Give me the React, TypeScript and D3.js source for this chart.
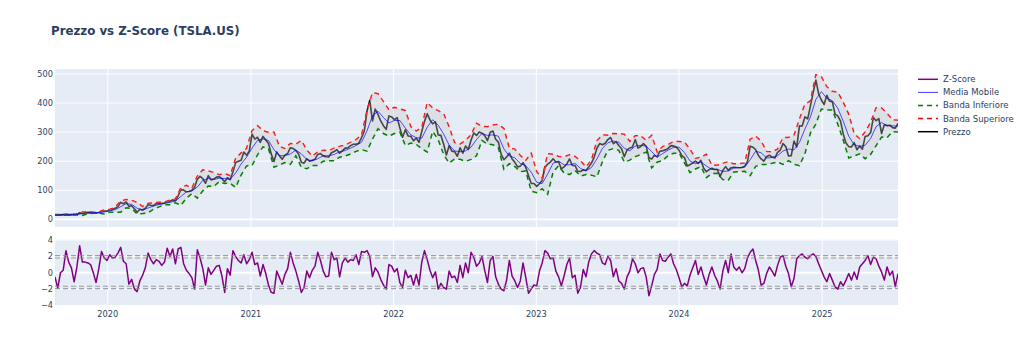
import React, { useEffect, useRef } from 'react';
import * as d3 from 'd3';

// weekly closes from 2019-08-19, bands / moving average every two weeks
const startDate = new Date(Date.UTC(2019, 7, 19));

const prezzo = [
  15.0, 15.1, 15.3, 16.5, 16.0, 15.3, 16.2, 16.5, 17.3, 21.9, 21.0, 22.5, 23.0, 23.7, 22.0, 22.2, 23.6, 27.1, 28.7, 28.7,
  32.0, 34.5, 37.7, 43.4, 58.0, 53.6, 60.0, 44.5, 46.9, 36.4, 24.1, 34.3, 32.0, 38.2, 50.3, 48.3, 46.8, 54.7, 53.3, 54.6,
  55.7, 59.9, 62.4, 66.7, 63.8, 80.9, 102.0, 100.6, 94.5, 95.4, 99.6, 109.8, 138.3, 147.6, 139.8, 124.1, 150.0, 135.5, 138.4, 145.0,
  146.6, 140.0, 129.3, 143.0, 136.2, 163.0, 195.0, 199.7, 203.3, 231.2, 220.6, 235.2,
  293.3, 276.0, 282.2, 264.5, 285.0, 272.8, 260.8, 225.0, 199.0, 231.7, 218.3, 206.2, 220.6, 226.3, 246.3, 243.7, 236.5, 224.4,
  196.6, 193.2, 208.4, 199.7, 203.4, 206.8, 223.1, 226.1, 218.2, 215.3, 214.4, 229.1, 233.3, 239.4, 227.3, 235.3, 244.7, 245.4,
  253.3, 258.2, 258.4, 261.8, 281.0, 303.6, 371.3, 409.0, 338.3, 379.0, 360.6, 338.3, 322.1, 309.3, 355.7, 352.3,
  342.3, 349.9, 314.6, 282.1, 307.8, 286.7, 285.7, 270.0, 279.4, 265.1, 301.8, 336.9, 362.7, 341.8, 328.3, 335.0, 290.3, 288.6,
  257.9, 221.3, 253.2, 234.4, 232.6, 216.8, 245.7, 227.3, 251.9, 240.1, 272.2, 297.1, 288.2, 300.0, 296.1, 288.1, 270.2, 299.7,
  303.4, 275.3, 265.3, 223.1, 205.0, 214.4, 227.5, 207.5, 196.0, 180.2, 182.9, 194.9, 179.1, 150.2, 123.2, 123.2,
  113.1, 122.4, 133.4, 177.9, 190.0, 196.9, 208.3, 196.9, 197.8, 173.4, 180.1, 190.4, 207.5, 185.0, 185.0, 165.1, 164.3, 170.1,
  168.0, 180.1, 193.2, 214.0, 244.4, 260.5, 256.6, 261.8, 274.4, 281.4, 260.0, 266.4, 253.9, 242.7, 215.5, 238.6, 245.0, 248.5,
  274.4, 244.9, 250.2, 260.5, 251.1, 212.0, 207.3, 220.0, 214.7, 234.3, 235.5, 238.8, 243.8, 253.5, 252.5, 248.5,
  237.5, 218.9, 212.2, 183.3, 187.9, 193.6, 200.0, 192.0, 202.6, 175.3, 163.6, 170.8, 175.8, 171.1, 171.1, 147.1, 168.3, 181.2,
  168.5, 177.5, 179.2, 178.1, 177.5, 178.0, 183.0, 197.9, 251.5, 248.2, 239.2, 219.8, 207.7, 200.0, 216.1, 220.3, 214.1, 210.7,
  230.3, 238.3, 260.5, 250.1, 217.8, 218.9, 269.2, 249.0, 321.2, 320.7, 352.6, 345.2, 389.2, 436.2, 479.0, 431.7, 410.4,
  394.7, 426.5, 406.6, 404.6, 361.6, 355.8, 337.8, 293.0, 262.7, 250.0, 248.7, 263.6, 239.4, 252.3, 241.4, 285.0, 287.2, 298.3,
  350.0, 339.3, 346.5, 295.1, 325.3, 322.2, 323.6, 315.4, 313.5, 329.7
];

const mediaMobile = [
  15.0, 15.1, 15.7, 16.0, 16.3, 19.2, 22.1, 22.8, 22.9, 25.4,
  29.1, 33.2, 43.4, 53.8, 51.3, 38.0, 31.7, 38.7, 45.9, 50.8,
  54.6, 58.2, 63.2, 78.4, 94.5, 97.5, 110.8, 133.9, 140.4, 137.0,
  141.4, 140.2, 137.1, 159.3, 190.3, 213.7, 245.1, 271.7, 276.9, 270.8,
  239.4, 218.5, 219.2, 224.9, 238.2, 225.3, 205.7, 201.2, 208.3, 218.6,
  218.5, 223.0, 232.3, 236.7, 244.7, 253.8, 264.9, 304.4, 355.6, 371.7,
  350.0, 331.4, 339.9, 339.8, 313.6, 290.6, 280.5, 279.1, 316.6, 342.4,
  323.9, 293.0, 255.3, 235.4, 232.4, 235.4, 247.9, 274.4, 295.4, 288.6,
  290.4, 285.9, 242.2, 217.5, 211.4, 191.7, 184.3, 161.9, 127.4, 123.0,
  155.9, 193.3, 200.0, 187.1, 187.9, 192.0, 174.9, 166.9, 177.9, 207.9,
  243.9, 263.3, 269.4, 265.4, 244.6, 235.5, 251.6, 254.5, 251.7, 232.7,
  213.5, 226.1, 238.1, 247.2, 248.0, 229.3, 200.6, 191.2, 197.1, 183.4,
  171.4, 172.2, 164.4, 166.3, 176.6, 178.1, 179.2, 205.0, 234.2, 228.7,
  210.9, 212.6, 218.9, 235.0, 241.7, 239.0, 264.6, 310.9, 351.9, 412.4,
  439.3, 415.8, 408.1, 382.2, 337.1, 285.9, 256.3, 251.0, 254.5, 278.0,
  318.7, 332.7, 322.3, 321.6, 320.6
];

const bandaSuperiore = [
  16.2, 16.3, 17.2, 17.3, 18.2, 25.2, 24.6, 24.6, 24.7, 32.2,
  33.8, 41.8, 62.4, 67.8, 65.3, 58.0, 43.7, 54.7, 56.9, 58.8,
  59.0, 66.2, 69.7, 108.4, 116.5, 106.5, 148.8, 169.9, 166.4, 161.0,
  153.4, 157.2, 150.1, 209.3, 228.3, 243.7, 305.1, 321.7, 304.9, 298.8,
  299.4, 250.5, 243.2, 260.9, 258.2, 271.3, 237.7, 217.2, 231.3, 237.6,
  235.5, 245.0, 250.9, 255.7, 264.7, 273.8, 289.9, 374.4, 435.6, 431.7,
  405.0, 376.4, 384.9, 379.8, 373.6, 318.6, 303.5, 315.1, 401.6, 382.4,
  373.9, 363.0, 317.3, 263.4, 258.4, 271.4, 289.9, 330.4, 319.4, 318.6,
  324.4, 325.9, 312.2, 243.5, 241.4, 219.7, 202.3, 226.9, 163.4, 141.0,
  225.9, 223.3, 216.0, 215.1, 221.9, 216.0, 200.9, 179.9, 203.9, 269.9,
  289.9, 289.3, 295.4, 293.4, 292.6, 267.5, 287.6, 286.5, 271.7, 288.7,
  230.5, 250.1, 257.1, 267.2, 268.0, 265.3, 240.6, 209.2, 213.1, 223.4,
  185.4, 186.2, 192.4, 198.3, 190.6, 192.1, 193.2, 275.0, 286.2, 268.7,
  232.9, 232.6, 240.9, 281.0, 281.7, 289.0, 344.6, 395.9, 406.9, 497.4,
  490.0, 455.8, 440.1, 437.2, 402.1, 360.9, 294.0, 277.0, 300.5, 333.0,
  383.7, 382.7, 364.3, 341.6, 340.6
];

const bandaInferiore = [
  13.8, 13.9, 14.2, 14.7, 14.4, 13.2, 19.6, 21.0, 21.1, 18.6,
  24.4, 24.6, 24.4, 39.8, 37.3, 18.0, 19.7, 22.7, 34.9, 42.8,
  50.2, 50.2, 56.7, 48.4, 72.5, 88.5, 72.8, 97.9, 114.4, 113.0,
  129.4, 123.2, 124.1, 109.3, 152.3, 183.7, 185.1, 221.7, 248.9, 242.8,
  179.4, 186.5, 195.2, 188.9, 218.2, 179.3, 173.7, 185.2, 185.3, 199.6,
  201.5, 201.0, 213.7, 217.7, 224.7, 233.8, 239.9, 234.4, 275.6, 311.7,
  295.0, 286.4, 294.9, 299.8, 253.6, 262.6, 257.5, 243.1, 231.6, 302.4,
  273.9, 223.0, 193.3, 207.4, 206.4, 199.4, 205.9, 218.4, 271.4, 258.6,
  256.4, 245.9, 172.2, 191.5, 181.4, 163.7, 166.3, 96.9, 91.4, 105.0,
  85.9, 163.3, 184.0, 159.1, 153.9, 168.0, 148.9, 153.9, 151.9, 145.9,
  197.9, 237.3, 243.4, 237.4, 196.6, 203.5, 215.6, 222.5, 231.7, 176.7,
  196.5, 202.1, 219.1, 227.2, 228.0, 193.3, 160.6, 173.2, 181.1, 143.4,
  157.4, 158.2, 136.4, 134.3, 162.6, 164.1, 165.2, 150.0, 182.2, 188.7,
  188.9, 192.6, 196.9, 189.0, 201.7, 189.0, 184.6, 225.9, 296.9, 327.4,
  379.3, 375.8, 376.1, 327.2, 272.1, 210.9, 218.0, 225.0, 208.5, 223.0,
  253.7, 282.7, 280.3, 301.6, 300.6
];

const zScore = [
  -0.5, -1.9, 0.0, 0.3, 2.7, 1.3, 0.6, -1.1, 0.7, 3.3, 1.3, 1.3, 1.2, 1.0, 0.0, -1.2, 0.5, 2.6, 1.8, 1.5,
  2.2, 1.8, 1.9, 2.4, 3.1, 1.4, 1.1, -1.4, -0.8, -2.0, -2.3, -1.0, -0.3, 0.6, 2.4, 1.6, 1.1, 1.6, 1.4, 0.9, 1.3,
  3.0, 2.0, 2.9, 1.1, 2.9, 3.1, 1.1, 0.3, -0.1, -0.6, -2.0, 2.8, 1.8, 0.5, -1.5, 0.6, -0.2, 0.3, 0.8, 0.9, -0.4,
  -2.4, 0.5, -0.3, 2.7, 2.0, 1.5, 1.2, 2.2, 1.1, 1.6,
  2.5, 1.0, 1.2, -0.4, 1.0, -0.1, -1.5, -2.4, -2.5, 0.2, -0.6, -1.4, -0.2, 0.5, 2.5, 1.2, 0.2, -1.0, -2.4, -1.8,
  0.2, -0.6, 0.3, 0.8, 2.5, 1.5, 0.2, -0.5, -0.4,
  2.5, 1.6, 1.8, -0.5, 1.2, 1.8, 1.3, 1.6, 1.5, 2.2, 1.0, 2.6, 2.5, 2.7, 2.0, -0.5, 0.6, 0.1, -0.8, -1.5, -2.0, 1.0, 0.8, 0.1,
  0.5, -1.2, -1.8, 0.3, -0.6, -0.3, -1.5, -0.2, -1.5, 1.3, 2.7, 1.6, 0.3, -0.6, 0.1, -2.0, -1.3, -1.8, -2.0, 0.2,
  -0.6, -0.4, -1.2, 0.9, -0.6, 1.2, 0.0, 2.5, 1.9, 0.8, 1.2, 2.0, 0.3, -1.2, 1.5, 2.0, -0.5, -1.4, -2.0, -2.2,
  -0.9, 1.5, -0.4, -1.0, -1.8, -1.0, 1.2, -0.6, -2.5, -2.0, -1.5,
  -1.6, 0.2, 1.2, 2.7, 2.4, 1.7, 1.8, 0.2, -0.5, -1.6, -0.4, 1.0, 1.8, -0.6, -0.3, -2.5, -1.8, 0.4, -0.5, 1.3,
  2.3, 2.7, 2.4, 2.2, 1.2, 1.0,
  2.0, 1.5, -0.5, 0.5, -1.0, -1.3, -2.0, -0.5, 0.2, 1.7, 1.1, 0.0, 0.5, 0.6, -0.5, -2.8, -1.6, -0.2, 0.4, 2.3,
  1.5, 1.4, 1.9, 2.3, 1.1, 0.4,
  -0.6, -1.7, -1.3, -1.6, -0.3, 0.6, 1.5, -0.2, 0.7, -0.5, -1.5, -0.2, 0.7, -0.3, -1.0, -2.0, 0.2, 1.5, 0.0, 2.3,
  0.7, 0.3, 0.7, 0.0, 0.5, 1.8,
  2.5, 2.9, 1.5, 0.3, -1.5, -1.3, -0.1, 0.7, 0.2, -0.4, 0.9, 1.9, 2.1, 0.8, -0.1, -1.7, -0.7, 1.7, 2.1, 2.3,
  1.9, 1.7, 2.1, 2.3, 2.0, 1.1, 0.3,
  -0.5, -1.1, -0.1, -0.9, -1.7, -2.0, -1.1, -1.6, -0.9, -0.1, -0.9, 0.1, -0.8, 0.7, 1.1, 1.5, 2.1, 1.0, 1.9, 1.7,
  0.8, 0.1, -0.9, 0.7, -0.3, 0.2, -1.7, -0.1
];

const soglieZ = [2.1, 1.8, -1.65, -1.95];
const tickPrezzo = [0, 100, 200, 300, 400, 500];
const tickZ = [-4, -2, 0, 2, 4];
const legendItems = [
  { name: 'Z-Score', color: '#800080', width: 2, dash: null },
  { name: 'Media Mobile', color: '#0000ff', width: 1, dash: null },
  { name: 'Banda Inferiore', color: '#008000', width: 2, dash: '5,4' },
  { name: 'Banda Superiore', color: '#ff0000', width: 2, dash: '5,4' },
  { name: 'Prezzo', color: '#000000', width: 2, dash: null }
];

const FONT = "'DejaVu Sans', Verdana, sans-serif";
const TEXT = '#2a3f5f';

const App: React.FC = () => {
  const svgRef = useRef<SVGSVGElement>(null);

  useEffect(() => {
    if (!svgRef.current) return;
    const svg = d3.select(svgRef.current);
    svg.selectAll('*').remove();

    const left = 55, right = 898;
    const top1 = 69, bottom1 = 227;
    const top2 = 239.5, bottom2 = 306;

    const weekly = prezzo.map((v, i) => ({ d: d3.utcDay.offset(startDate, 7 * i), v }));
    const zData = zScore.map((v, i) => ({ d: d3.utcDay.offset(startDate, 7 * i), v }));
    const bands = mediaMobile.map((m, i) => ({
      d: d3.utcDay.offset(startDate, 14 * i),
      m,
      up: bandaSuperiore[i],
      lo: bandaInferiore[i]
    }));

    const x = d3.scaleUtc()
      .domain(d3.extent(weekly, d => d.d) as [Date, Date])
      .range([left, right]);
    const y = d3.scaleLinear().domain([-26.5, 517]).range([bottom1, top1]);
    const yz = d3.scaleLinear().domain([-4.06, 4.06]).range([bottom2, top2]);
    const years = x.ticks(d3.utcYear.every(1)!);

    svg.append('rect').attr('width', 1024).attr('height', 363).attr('fill', '#fff');

    // title
    svg.append('text')
      .attr('x', 51).attr('y', 34.7)
      .attr('font-family', FONT).attr('font-size', 11.8).attr('font-weight', 'bold')
      .attr('fill', TEXT)
      .text('Prezzo vs Z-Score (TSLA.US)');

    const defs = svg.append('defs');
    const panel = (id: string, t: number, b: number, yScale: d3.ScaleLinear<number, number>, ticks: number[]) => {
      defs.append('clipPath').attr('id', id).append('rect')
        .attr('x', left).attr('y', t).attr('width', right - left).attr('height', b - t);
      svg.append('rect')
        .attr('x', left).attr('y', t).attr('width', right - left).attr('height', b - t)
        .attr('fill', '#E5ECF6');
      const g = svg.append('g');
      g.selectAll('.xg').data(years).enter().append('line')
        .attr('x1', d => x(d)).attr('x2', d => x(d))
        .attr('y1', t).attr('y2', b)
        .attr('stroke', '#fff').attr('stroke-width', 1);
      g.selectAll('.yg').data(ticks).enter().append('line')
        .attr('x1', left).attr('x2', right)
        .attr('y1', d => yScale(d)).attr('y2', d => yScale(d))
        .attr('stroke', '#fff').attr('stroke-width', d => (d === 0 ? 1.8 : 1));
      g.selectAll('.yl').data(ticks).enter().append('text')
        .attr('x', left - 2).attr('y', d => yScale(d)).attr('dy', '0.35em')
        .attr('text-anchor', 'end')
        .attr('font-family', FONT).attr('font-size', 8.2).attr('fill', TEXT)
        .text(d => (d < 0 ? '\u2212' + Math.abs(d) : String(d)));
      return svg.append('g').attr('clip-path', `url(#${id})`);
    };

    const p1 = panel('clip-prezzo', top1, bottom1, y, tickPrezzo);
    const p2 = panel('clip-z', top2, bottom2, yz, tickZ);

    // price panel
    p1.append('path').datum(weekly)
      .attr('d', d3.line<{ d: Date; v: number }>().x(d => x(d.d)).y(d => y(d.v)))
      .attr('fill', 'none').attr('stroke', '#000').attr('stroke-width', 1.6)
      .attr('stroke-linejoin', 'round');

    p1.append('path').datum(bands)
      .attr('d', d3.line<typeof bands[number]>().x(d => x(d.d)).y(d => y(d.up)))
      .attr('fill', 'none').attr('stroke', '#ff0000').attr('stroke-width', 1.5)
      .attr('stroke-dasharray', '5,4');

    p1.append('path').datum(bands)
      .attr('d', d3.area<typeof bands[number]>().x(d => x(d.d)).y0(d => y(d.lo)).y1(d => y(d.up)))
      .attr('fill', 'rgba(200,200,200,0.35)');

    p1.append('path').datum(bands)
      .attr('d', d3.line<typeof bands[number]>().x(d => x(d.d)).y(d => y(d.lo)))
      .attr('fill', 'none').attr('stroke', '#008000').attr('stroke-width', 1.5)
      .attr('stroke-dasharray', '5,4');

    p1.append('path').datum(bands)
      .attr('d', d3.line<typeof bands[number]>().x(d => x(d.d)).y(d => y(d.m)))
      .attr('fill', 'none').attr('stroke', '#0000ff').attr('stroke-width', 0.8)
      .attr('opacity', 0.85);

    // z-score panel
    p2.append('path').datum(zData)
      .attr('d', d3.line<{ d: Date; v: number }>().x(d => x(d.d)).y(d => yz(d.v)))
      .attr('fill', 'none').attr('stroke', '#800080').attr('stroke-width', 1.5)
      .attr('stroke-linejoin', 'round');

    p2.selectAll('.soglia').data(soglieZ).enter().append('line')
      .attr('x1', left).attr('x2', right)
      .attr('y1', d => yz(d)).attr('y2', d => yz(d))
      .attr('stroke', '#8c8c8c').attr('stroke-width', 1.2)
      .attr('stroke-dasharray', '5,3').attr('opacity', 0.8);

    // x axis labels
    svg.selectAll('.xl').data(years).enter().append('text')
      .attr('x', d => x(d)).attr('y', 316.5)
      .attr('text-anchor', 'middle')
      .attr('font-family', FONT).attr('font-size', 8.2).attr('fill', TEXT)
      .text(d => d3.utcFormat('%Y')(d));

    // legend
    const leg = svg.append('g');
    legendItems.forEach((it, i) => {
      const ly = 79.3 + i * 13.1;
      leg.append('line')
        .attr('x1', 918).attr('x2', 938).attr('y1', ly).attr('y2', ly)
        .attr('stroke', it.color).attr('stroke-width', it.width * 0.75)
        .attr('stroke-dasharray', it.dash ?? null);
      leg.append('text')
        .attr('x', 943).attr('y', ly).attr('dy', '0.35em')
        .attr('font-family', FONT).attr('font-size', 8.5).attr('fill', TEXT)
        .text(it.name);
    });
  }, []);

  return (
    <div style={{ position: 'absolute', left: 0, top: 0 }}>
      <svg ref={svgRef} width={1024} height={363} style={{ display: 'block' }} />
    </div>
  );
};

export default App;
